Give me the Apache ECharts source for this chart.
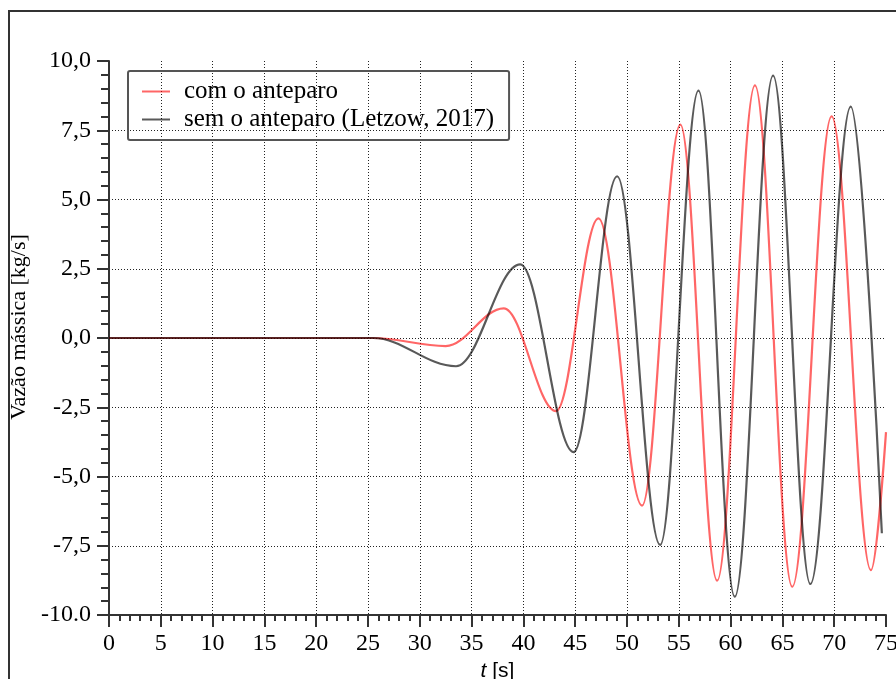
<!DOCTYPE html>
<html>
<head>
    <title>Vazão mássica</title>
	<meta charset="utf-8">
    <style>
        html, body { margin: 0; padding: 0; background: #fff; }
        #main { width: 896px; height: 679px; }
    </style>
</head>
<body>
    <div id="main"></div>
    <script type="text/javascript" src="https://cdn.jsdelivr.net/npm/echarts@6/dist/echarts.min.js"></script>
    <script type="text/javascript">
    // nomes das séries (legenda)
    var seriesNames = ['com o anteparo', 'sem o anteparo (Letzow, 2017)'];

    // rótulos do eixo y, de -10 a 10 (passo 2,5)
    var yTickLabels = ['-10.0', '-7,5', '-5,0', '-2,5', '0,0', '2,5', '5,0', '7,5', '10,0'];

    // pontos [t (s), vazão (kg/s)]: trecho plano + picos e vales
    var comAnteparo = [
        [0, 0], [25.5, 0], [32.5, -0.29], [38.1, 1.07], [43.15, -2.64],
        [47.25, 4.32], [51.45, -6.05], [55.15, 7.7], [58.7, -8.76],
        [62.35, 9.12], [65.95, -8.98], [69.75, 8.0], [73.55, -8.38],
        [75, -3.4]
    ];
    var semAnteparo = [
        [0, 0], [25.5, 0], [33.5, -1.02], [39.7, 2.66], [44.85, -4.12],
        [49.05, 5.84], [53.2, -7.47], [56.9, 8.93], [60.4, -9.34],
        [64.1, 9.47], [67.7, -8.88], [71.6, 8.35], [74.6, -7.05]
    ];

    var serif = '"Liberation Serif", "DejaVu Serif", serif';
    var axisColor = '#333';

    var myChart = echarts.init(document.getElementById('main'));

    var option = {
        animation: false,
        backgroundColor: '#fff',
        graphic: [{
            type: 'rect',
            shape: { x: 9, y: 11, width: 1000, height: 1000 },
            style: { fill: 'none', stroke: '#333', lineWidth: 2 },
            silent: true
        }],
        legend: {
            orient: 'vertical',
            left: 128,
            top: 71,
            padding: [8, 15, 8, 14],
            itemGap: 3,
            itemWidth: 28,
            itemHeight: 2,
            icon: 'rect',
            borderColor: '#555',
            borderWidth: 2,
            borderRadius: 2,
            textStyle: { fontFamily: serif, fontSize: 25, color: '#000', padding: [0, 0, 0, 9] },
            data: seriesNames
        },
        grid: {
            left: 109,
            right: 10,
            top: 61,
            bottom: 64,
            outerBoundsMode: 'none'
        },
        xAxis: {
            type: 'value',
            min: 0,
            max: 75,
            interval: 5,
            name: '{i|t} [s]',
            nameLocation: 'middle',
            nameGap: 40,
            nameTextStyle: {
                fontFamily: '"Liberation Sans", sans-serif',
                fontSize: 21,
                color: '#000',
                rich: { i: { fontStyle: 'italic', fontFamily: '"Liberation Sans", sans-serif', fontSize: 21, color: '#000' } }
            },
            axisLine: { onZero: false, lineStyle: { color: axisColor, width: 2 } },
            axisTick: { length: 12, lineStyle: { color: axisColor, width: 2 } },
            minorTick: { show: true, splitNumber: 5, length: 6, lineStyle: { color: axisColor, width: 2 } },
            axisLabel: { fontFamily: serif, fontSize: 24, color: '#000', margin: 17 },
            splitLine: {
                show: true, showMinLine: false, showMaxLine: false,
                lineStyle: { color: '#222', width: 1, type: [1, 2] }
            }
        },
        yAxis: {
            type: 'value',
            min: -10,
            max: 10,
            interval: 2.5,
            name: 'Vazão mássica [kg/s]',
            nameLocation: 'middle',
            nameRotate: 90,
            nameGap: 75,
            nameTextStyle: { fontFamily: serif, fontSize: 22, color: '#000', padding: [0, 0, 0, 22] },
            axisLine: { show: true, onZero: false, lineStyle: { color: axisColor, width: 2 } },
            axisTick: { show: true, length: 12, lineStyle: { color: axisColor, width: 2 } },
            minorTick: { show: true, splitNumber: 5, length: 8, lineStyle: { color: axisColor, width: 2 } },
            axisLabel: {
                fontFamily: serif, fontSize: 24, color: '#000', margin: 18,
                formatter: function (v) {
                    return yTickLabels[Math.round((v + 10) / 2.5)];
                }
            },
            splitLine: {
                show: true, showMinLine: false, showMaxLine: false,
                lineStyle: { color: '#222', width: 1, type: [1, 2] }
            }
        },
        series: [
            {
                name: seriesNames[0],
                type: 'line',
                data: comAnteparo,
                smooth: 0.36,
                smoothMonotone: 'x',
                symbol: 'none',
                lineStyle: { color: 'rgba(255,0,0,0.6)', width: 2.2 },
                itemStyle: { color: 'rgba(255,0,0,0.6)' }
            },
            {
                name: seriesNames[1],
                type: 'line',
                data: semAnteparo,
                smooth: 0.36,
                smoothMonotone: 'x',
                symbol: 'none',
                lineStyle: { color: 'rgba(0,0,0,0.65)', width: 2.2 },
                itemStyle: { color: 'rgba(0,0,0,0.65)' }
            }
        ]
    };

    myChart.setOption(option);
    </script>
</body>
</html>
